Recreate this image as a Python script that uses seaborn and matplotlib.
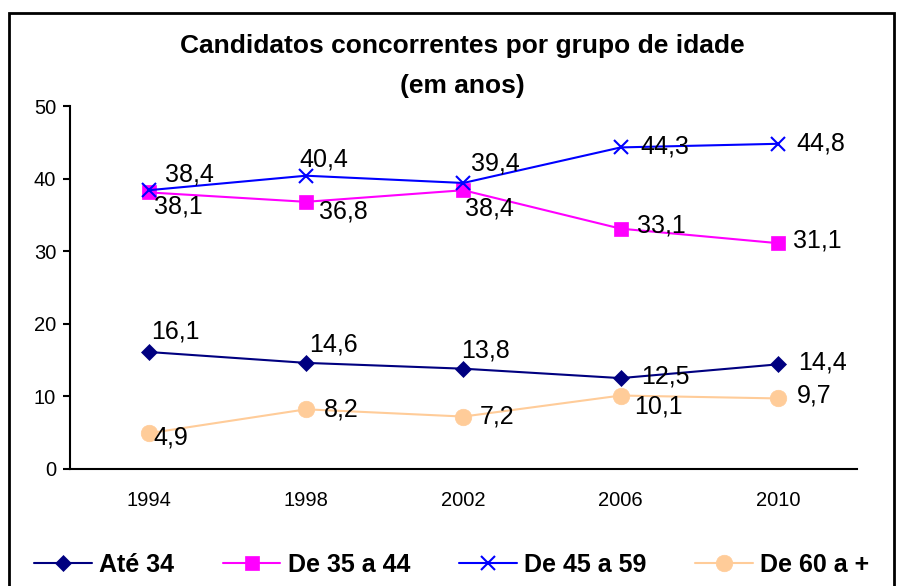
import pandas as pd
import matplotlib
matplotlib.use("Agg")
import matplotlib.pyplot as plt
from matplotlib.patches import Rectangle
import seaborn as sns

years = ["1994", "1998", "2002", "2006", "2010"]
ate_34 = [16.1, 14.6, 13.8, 12.5, 14.4]
de_35_44 = [38.1, 36.8, 38.4, 33.1, 31.1]
de_45_59 = [38.4, 40.4, 39.4, 44.3, 44.8]
de_60 = [4.9, 8.2, 7.2, 10.1, 9.7]
series_names = ["Até 34", "De 35 a 44", "De 45 a 59", "De 60 a +"]

rows = []
for name, vals in zip(series_names, [ate_34, de_35_44, de_45_59, de_60]):
    for i, v in enumerate(vals):
        rows.append(dict(pos=i, value=v, grupo=name))
df = pd.DataFrame(rows)

sns.set_style("white")
plt.rcParams["font.family"] = ["Liberation Sans", "DejaVu Sans"]
plt.rcParams["text.color"] = "black"
plt.rcParams["xtick.color"] = "black"
plt.rcParams["ytick.color"] = "black"

colors = {"Até 34": "#000080", "De 35 a 44": "#FF00FF",
          "De 45 a 59": "#0000FF", "De 60 a +": "#FFCC99"}
markers = {"Até 34": "D", "De 35 a 44": "s", "De 45 a 59": "x", "De 60 a +": "o"}
msize = {"Até 34": 9, "De 35 a 44": 11.5, "De 45 a 59": 12, "De 60 a +": 14}

fig = plt.figure(figsize=(8.98, 5.86), dpi=100)
fig.patch.set_facecolor("white")
ax = fig.add_axes([0.078, 0.200, 0.876, 0.619])

for name in series_names:
    sub = df[df["grupo"] == name]
    sns.lineplot(data=sub, x="pos", y="value", color=colors[name],
                 marker=markers[name], markersize=msize[name],
                 markeredgecolor=colors[name],
                 markeredgewidth=1.5 if name == "De 45 a 59" else 0.5,
                 linewidth=1.5, label=name, ax=ax)

# label offsets in points (dx, dy) per point
offsets = {
    "Até 34": [(19, 15), (20, 13), (16, 13), (32, 1.5), (32, 1.5)],
    "De 35 a 44": [(21, -10), (27, -7), (19, -13), (29, 2), (28, 2)],
    "De 45 a 59": [(29, 11.5), (13, 12), (23, 14), (32, 1), (31, 0.5)],
    "De 60 a +": [(16, -3), (25, 0), (24, 0), (27, -8), (26, 2)],
}
for name, vals in zip(series_names, [ate_34, de_35_44, de_45_59, de_60]):
    for i, v in enumerate(vals):
        ax.annotate(f"{v:.1f}".replace(".", ","), (i, v),
                    xytext=offsets[name][i], textcoords="offset points",
                    ha="center", va="center", fontsize=18, color="black")

ax.set_xlim(-0.5, 4.5)
ax.set_ylim(0, 50)
ax.set_yticks([0, 10, 20, 30, 40, 50])
ax.set_xticks(range(len(years)))
ax.set_xticklabels(years)
ax.set_xticks([i - 0.5 for i in range(len(years) + 1)], minor=True)
ax.tick_params(axis="x", which="major", length=0, pad=16, labelsize=14.5)
ax.tick_params(axis="x", which="minor", length=5, width=1.5, direction="out")
ax.tick_params(axis="y", length=5, width=1.5, direction="out", labelsize=14.5,
               left=True, pad=5)
ax.set_xlabel("")
ax.set_ylabel("")
for s in ["top", "right"]:
    ax.spines[s].set_visible(False)
for s in ["left", "bottom"]:
    ax.spines[s].set_linewidth(1.5)
    ax.spines[s].set_color("black")

ax.legend_.remove()
handles, labels = ax.get_legend_handles_labels()
for h in handles:
    h.set_markersize(h.get_markersize() * 0.85)
fig.legend(handles, labels, loc="center", bbox_to_anchor=(0.503, 0.036), ncol=4,
           frameon=False, prop=dict(size=18, weight="bold"), handlelength=2.3,
           columnspacing=1.95, handletextpad=0.3)

fig.text(0.5145, 0.9096, "Candidatos concorrentes por grupo de idade", ha="center",
         va="baseline", fontsize=19, weight="bold")
fig.text(0.5145, 0.841, "(em anos)", ha="center", va="baseline", fontsize=19,
         weight="bold")

fig.patches.append(Rectangle((0.010, -0.1), 0.986, 1.078, transform=fig.transFigure,
                             fill=False, edgecolor="black", linewidth=2,
                             clip_on=False))

fig.savefig("out.png", dpi=100)
plt.close(fig)
